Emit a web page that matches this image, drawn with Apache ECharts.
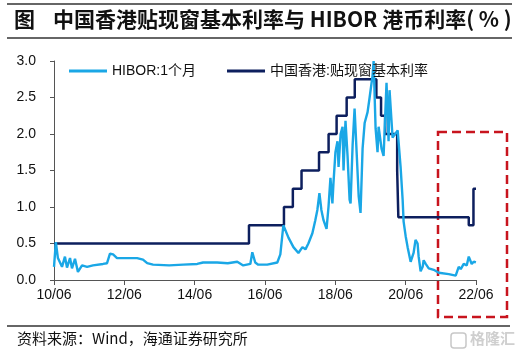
<!DOCTYPE html>
<html>
<head>
<meta charset="utf-8">
<script src="https://cdn.jsdelivr.net/npm/echarts@6/dist/echarts.min.js"></script>
<style>
html,body{margin:0;padding:0;background:#fff;}
#c{width:529px;height:356px;}
</style>
</head>
<body>
<div id="c"></div>
<script>
// ---- data ----
const xTickLabels = ['10/06','12/06','14/06','16/06','18/06','20/06','22/06'];

const hiborDates = [
'2010-06-01','2010-06-20','2010-07-11','2010-08-23','2010-09-23','2010-10-14','2010-11-15','2010-12-05',
'2011-01-06','2011-02-06','2011-03-18','2011-05-10','2011-07-10','2011-10-23','2011-12-04','2012-01-04',
'2012-02-06','2012-03-16','2012-10-12','2012-12-12','2013-01-25','2013-03-25','2013-09-10','2014-02-03',
'2014-06-27','2014-08-27','2015-01-21','2015-05-10','2015-08-17','2015-10-18','2016-01-01','2016-01-21',
'2016-02-21','2016-03-22','2016-06-24','2016-10-07','2016-11-08','2016-12-09','2017-02-01','2017-03-22',
'2017-05-13','2017-06-24','2017-07-25','2017-08-25','2017-10-06','2017-11-06','2017-11-27','2017-12-18',
'2018-01-08','2018-01-30','2018-03-01','2018-03-21','2018-04-11','2018-05-01','2018-05-12','2018-06-02',
'2018-06-23','2018-07-04','2018-07-25','2018-08-15','2018-08-25','2018-09-15','2018-10-06','2018-10-27',
'2018-11-07','2018-11-28','2018-12-18','2019-01-09','2019-01-30','2019-02-19','2019-03-10','2019-04-01',
'2019-05-01','2019-05-22','2019-06-22','2019-07-03','2019-07-23','2019-08-13','2019-08-24','2019-09-24',
'2019-10-15','2019-11-15','2019-12-06','2019-12-16','2020-01-17','2020-02-07','2020-03-09','2020-04-09',
'2020-04-30','2020-05-10','2020-05-31','2020-06-21','2020-07-22','2020-08-22','2020-09-12','2020-10-03',
'2020-10-14','2020-11-04','2020-11-25','2020-12-05','2020-12-26','2021-01-27','2021-03-18','2021-05-10',
'2021-08-22','2021-11-03','2021-12-04','2021-12-25','2022-01-25','2022-02-26','2022-03-17','2022-04-17',
'2022-05-08','2022-05-30'
];
const hiborValues = [
0.18,0.52,0.30,0.18,0.32,0.17,0.30,0.16,
0.29,0.11,0.20,0.18,0.20,0.22,0.23,0.36,
0.35,0.30,0.30,0.28,0.23,0.21,0.20,0.21,
0.22,0.24,0.24,0.23,0.25,0.20,0.22,0.38,
0.24,0.21,0.21,0.24,0.35,0.75,0.58,0.45,
0.37,0.45,0.42,0.50,0.64,0.82,0.96,1.19,
0.96,0.82,0.70,1.00,1.40,1.05,1.33,1.75,
1.90,1.55,2.00,2.10,1.50,2.18,1.70,1.10,
1.05,1.85,2.35,1.75,1.15,0.92,1.80,2.15,
2.30,2.50,2.80,3.00,2.08,1.75,2.10,1.80,
1.70,2.70,1.90,2.60,1.95,1.95,2.05,1.55,
1.10,0.80,0.60,0.45,0.25,0.37,0.55,0.50,
0.32,0.12,0.18,0.27,0.22,0.16,0.14,0.10,
0.08,0.06,0.18,0.15,0.22,0.20,0.32,0.22,
0.25,0.24
];

const baseDates = [
'2010-06-01','2015-12-17','2016-12-15','2017-03-16','2017-06-15','2017-12-14','2018-03-22','2018-06-14',
'2018-09-27','2018-12-20','2019-08-01','2019-09-19','2019-10-31','2020-03-04','2020-03-16','2022-03-17',
'2022-05-05','2022-05-31'
];
const baseValues = [
0.50,0.75,1.00,1.25,1.50,1.75,2.00,2.25,
2.50,2.75,2.50,2.25,2.00,1.50,0.86,0.75,
1.25,1.25
];

// months since 2010-06-01
function toM(s){
  const p = s.split('-').map(Number);
  return (p[0]-2010)*12 + (p[1]-6) + (p[2]-1)/30;
}
const hiborData = hiborDates.map((d,i)=>[toM(d), hiborValues[i]]);
const baseData = baseDates.map((d,i)=>[toM(d), baseValues[i]]);

const latin = 'Liberation Sans, Arial, Noto Sans CJK SC, sans-serif';
const chart = echarts.init(document.getElementById('c'));
chart.setOption({
  animation:false,
  backgroundColor:'#fff',
  grid:{left:54,right:53,top:61,bottom:76},
  legend:{
    left:64, top:59, itemWidth:38, itemHeight:3, itemGap:31, icon:'rect',
    data:['HIBOR:1个月','中国香港:贴现窗基本利率'],
    textStyle:{fontSize:14,color:'#111',fontFamily:latin}
  },
  xAxis:{
    type:'value', min:0, max:144, interval:24,
    axisLine:{lineStyle:{color:'#555',width:1}},
    axisTick:{show:true,length:5,lineStyle:{color:'#555'}},
    splitLine:{show:false},
    axisLabel:{margin:8,fontSize:14,color:'#111',fontFamily:latin,
      formatter:v=>xTickLabels[Math.round(v/24)]||''}
  },
  yAxis:{
    type:'value', min:0, max:3, interval:0.5,
    axisLine:{show:true,lineStyle:{color:'#555',width:1}},
    axisTick:{show:true,length:4,lineStyle:{color:'#555'}},
    splitLine:{show:false},
    axisLabel:{margin:18,fontSize:14,color:'#111',fontFamily:latin,
      formatter:v=>v.toFixed(1)}
  },
  series:[
    {name:'中国香港:贴现窗基本利率',type:'line',step:'end',data:baseData,symbol:'none',
     lineStyle:{color:'#0D1F5E',width:2.5},itemStyle:{color:'#0D1F5E'}},
    {name:'HIBOR:1个月',type:'line',data:hiborData,symbol:'none',
     lineStyle:{color:'#1AA7E6',width:2.4},itemStyle:{color:'#1AA7E6'}}
  ],
  graphic:[
    {type:'line',shape:{x1:7,y1:4,x2:512,y2:4},style:{stroke:'#333',lineWidth:1.5}},
    {type:'line',shape:{x1:7,y1:38,x2:512,y2:38},style:{stroke:'#333',lineWidth:1.5}},
    {type:'text',left:14,top:9,style:{text:'图',font:'bold 21px "Noto Sans CJK SC"',fill:'#111'}},
    {type:'text',left:53,top:9,style:{text:'中国香港贴现窗基本利率与 HIBOR 港币利率( % )',font:'bold 21px "Noto Sans CJK SC"',fill:'#111'}},
    {type:'rect',shape:{x:438,y:132,width:69,height:185},
     style:{fill:'none',stroke:'#C8141E',lineWidth:2.5,lineDash:[9,5]}},
    {type:'line',shape:{x1:7,y1:326,x2:510,y2:326},style:{stroke:'#333',lineWidth:1.5}},
    {type:'text',left:17,top:331,style:{text:'资料来源：Wind，海通证券研究所',font:'15px "Noto Sans CJK SC"',fill:'#111'}},
    {type:'rect',shape:{x:451,y:333,width:15,height:15,r:3},style:{fill:'none',stroke:'#c8c8c8',lineWidth:1.5}},
    {type:'text',left:470,top:331,style:{text:'格隆汇',font:'bold 15px "Noto Sans CJK SC"',fill:'#cfcfcf'}}
  ]
});
</script>
</body>
</html>
